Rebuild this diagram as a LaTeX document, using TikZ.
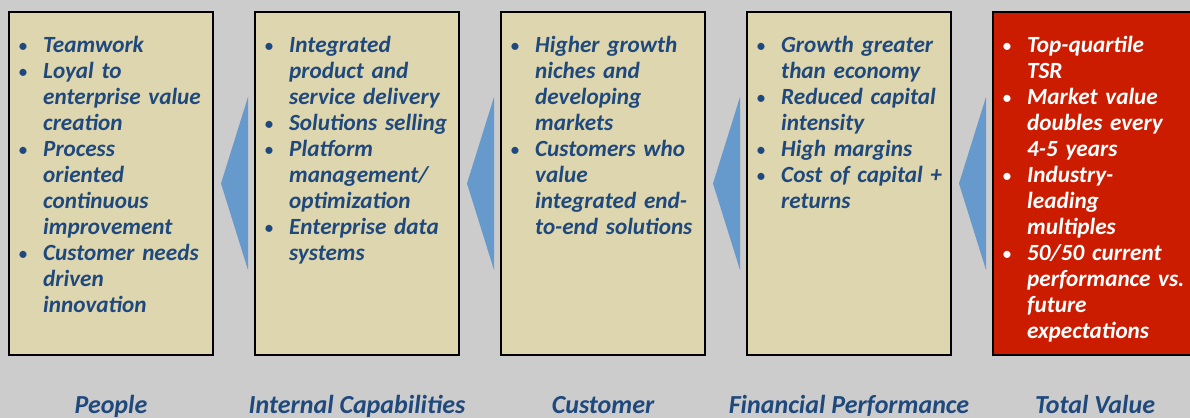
\documentclass[tikz,border=0pt]{standalone}
\usepackage{fontspec}
\setmainfont{Carlito}
\usepackage{xcolor}
\usetikzlibrary{positioning, calc}

\definecolor{bggray}{RGB}{204,204,204}
\definecolor{paneltan}{RGB}{222,214,174}
\definecolor{valuered}{RGB}{204,28,0}
\definecolor{chevronblue}{RGB}{102,153,204}
\definecolor{textblue}{RGB}{31,73,125}

% one bullet line, later lines hang under the text
\newcommand{\bitem}[1]{\par\hangindent=25pt\hangafter=1\noindent\strut\makebox[25pt][l]{{\normalfont\fontsize{20}{26}\selectfont\textbullet}}#1}

\begin{document}
\begin{tikzpicture}[x=1pt, y=1pt, node distance=40pt,
        panel/.style={rectangle, draw=black, line width=2pt, fill=paneltan, minimum width=204pt, minimum height=343pt, inner sep=0pt},
        valuepanel/.style={panel, fill=valuered},
        bullets/.style={text width=210pt, align=left, inner sep=0pt, text=textblue, font=\fontsize{23.2}{26}\selectfont\bfseries\itshape},
        caption/.style={anchor=base, yshift=-57pt, text=textblue, font=\fontsize{26}{30}\selectfont\bfseries\itshape},
        chevron/.style={fill=chevronblue}
    ]
        \useasboundingbox (0,0) rectangle (1190,418);
        \clip (0,0) rectangle (1190,418);
        \fill[bggray] (0,0) rectangle (1190,418);

        % Panels
        \node [panel] (people) at (111,234.5) {};
        \node [panel, right=of people] (capab) {};
        \node [panel, right=of capab] (cust) {};
        \node [panel, right=of cust] (fin) {};
        \node [valuepanel, right=of fin] (value) {};

        % Bullet texts
        \node [bullets, below right=15pt and 10pt of people.north west] (peopletxt) {%
            \bitem{Teamwork}
            \bitem{Loyal to\newline enterprise value\newline creation}
            \bitem{Process\newline oriented\newline continuous\newline improvement}
            \bitem{Customer needs\newline driven\newline innovation}\par};
        \node [bullets, below right=15pt and 10pt of capab.north west] (capabtxt) {%
            \bitem{Integrated\newline product and\newline service delivery}
            \bitem{Solutions selling}
            \bitem{Platform\newline management/\newline optimization}
            \bitem{Enterprise data\newline systems}\par};
        \node [bullets, below right=15pt and 10pt of cust.north west] (custtxt) {%
            \bitem{Higher growth\newline niches and\newline developing\newline markets}
            \bitem{Customers who\newline value\newline integrated end-\newline to-end solutions}\par};
        \node [bullets, below right=15pt and 10pt of fin.north west] (fintxt) {%
            \bitem{Growth greater\newline than economy}
            \bitem{Reduced capital\newline intensity}
            \bitem{High margins}
            \bitem{Cost of capital +\newline returns}\par};
        \node [bullets, text=white, below right=15pt and 10pt of value.north west] (valuetxt) {%
            \bitem{Top-quartile\newline TSR}
            \bitem{Market value\newline doubles every\newline 4-5 years}
            \bitem{Industry-\newline leading\newline multiples}
            \bitem{50/50 current\newline performance vs.\newline future\newline expectations}\par};

        % Chevrons
        \fill[chevron] ($(people.east)+(7,0)$) -- ($(capab.west)+(-6,86.5)$) -- ($(capab.west)+(-6,-86.5)$) -- cycle;
        \fill[chevron] ($(capab.east)+(7,0)$) -- ($(cust.west)+(-6,86.5)$) -- ($(cust.west)+(-6,-86.5)$) -- cycle;
        \fill[chevron] ($(cust.east)+(7,0)$) -- ($(fin.west)+(-6,86.5)$) -- ($(fin.west)+(-6,-86.5)$) -- cycle;
        \fill[chevron] ($(fin.east)+(7,0)$) -- ($(value.west)+(-6,86.5)$) -- ($(value.west)+(-6,-86.5)$) -- cycle;

        % Captions
        \node [caption] (peoplecap) at (people.south) {People};
        \node [caption] (capabcap) at (capab.south) {Internal Capabilities};
        \node [caption] (custcap) at (cust.south) {Customer};
        \node [caption] (fincap) at (fin.south) {Financial Performance};
        \node [caption] (valuecap) at (value.south) {Total Value};
    \end{tikzpicture}
\end{document}
